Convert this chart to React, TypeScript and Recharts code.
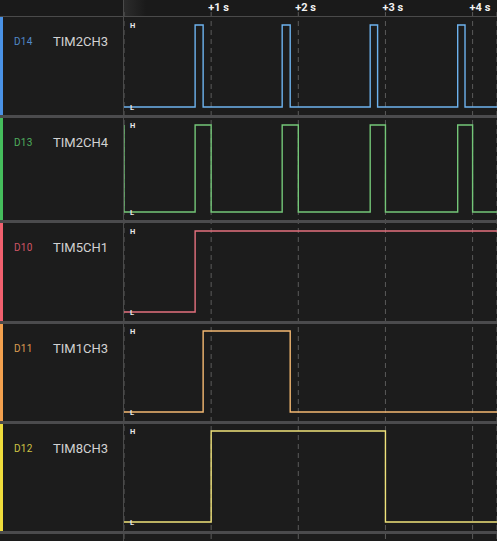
import React from "react";
import { LineChart, Line, XAxis, YAxis, CartesianGrid } from "recharts";

const W = 497;
const H = 541;
const PLOT_LEFT = 124;
const PLOT_W = W - PLOT_LEFT;
const T_MAX = 4.28;
const FONT = "Roboto, 'Noto Sans', sans-serif";

const secondTicks = [1, 2, 3, 4];
const levelTicks = [0, 1];
const levelNames = ["L", "H"];

const pins = ["D14", "D13", "D10", "D11", "D12"];
const signalNames = ["TIM2CH3", "TIM2CH4", "TIM5CH1", "TIM1CH3", "TIM8CH3"];
const barColors = ["#4a92e6", "#45bd5c", "#f0606e", "#f2a04e", "#eedc3c"];
const pinColors = ["#5189c9", "#4fae5e", "#cf5565", "#dd9c52", "#cfc445"];
const traceColors = ["#6db2ee", "#74c678", "#e4707e", "#f3b871", "#efe27a"];

// edge times in seconds, and the logic level after each edge
const tim2ch3Times = [0, 0.816, 0.908, 1.815, 1.907, 2.825, 2.91, 3.829, 3.913, 4.28];
const tim2ch3Levels = [0, 1, 0, 1, 0, 1, 0, 1, 0, 0];

const tim2ch4Times = [0, 0, 0.816, 1.0, 1.815, 2.0, 2.825, 3.0, 3.829, 4.0, 4.28];
const tim2ch4Levels = [1, 0, 1, 0, 1, 0, 1, 0, 1, 0, 0];

const tim5ch1Times = [0, 0.816, 4.28];
const tim5ch1Levels = [0, 1, 1];

const tim1ch3Times = [0, 0.908, 1.907, 4.28];
const tim1ch3Levels = [0, 1, 0, 0];

const tim8ch3Times = [0, 1.0, 3.0, 4.28];
const tim8ch3Levels = [0, 1, 0, 0];

const channelTimes = [tim2ch3Times, tim2ch4Times, tim5ch1Times, tim1ch3Times, tim8ch3Times];
const channelLevels = [tim2ch3Levels, tim2ch4Levels, tim5ch1Levels, tim1ch3Levels, tim8ch3Levels];

// row boxes on the page (layout only)
const rowLayout = [
  { top: 17, height: 98, mt: 8, mb: 8 },
  { top: 118, height: 102, mt: 7, mb: 8 },
  { top: 223, height: 98, mt: 8, mb: 9 },
  { top: 324, height: 97, mt: 7, mb: 9 },
  { top: 424, height: 107, mt: 7, mb: 9 },
];
const separators = [115, 220, 321, 421, 531];

const renderSecondTick = ({ x, payload }: any) => (
  <text
    x={x - 3}
    y={11}
    fill="#f2f2f2"
    fontSize={11}
    fontWeight={700}
    fontFamily={FONT}
    textAnchor="start"
  >
    {`+${payload.value} s`}
  </text>
);

const renderLevelTick = ({ y, payload }: any) => (
  <text
    x={6}
    y={y}
    dy={3}
    fill="#e8e8e8"
    fontSize={7.5}
    fontWeight={700}
    fontFamily={FONT}
    textAnchor="start"
  >
    {levelNames[payload.value]}
  </text>
);

function Channel({ i }: { i: number }) {
  const row = rowLayout[i];
  const data = channelTimes[i].map((t, k) => ({ t, v: channelLevels[i][k] }));
  return (
    <div style={{ position: "absolute", left: PLOT_LEFT, top: row.top }}>
      <LineChart
        width={PLOT_W}
        height={row.height}
        data={data}
        margin={{ top: row.mt, bottom: row.mb, left: 0, right: 0 }}
      >
        <XAxis dataKey="t" type="number" domain={[0, T_MAX]} allowDataOverflow hide />
        <YAxis
          type="number"
          domain={[0, 1]}
          ticks={levelTicks}
          interval={0}
          mirror
          width={20}
          axisLine={false}
          tickLine={false}
          tick={renderLevelTick}
        />
        <Line
          type="stepAfter"
          dataKey="v"
          stroke={traceColors[i]}
          strokeWidth={1.4}
          dot={false}
          isAnimationActive={false}
        />
      </LineChart>
    </div>
  );
}

export default function App() {
  const gridData = secondTicks.map((t) => ({ t }));
  return (
    <div
      style={{
        position: "absolute",
        left: 0,
        top: 0,
        width: W,
        height: H,
        background: "#1c1c1c",
        overflow: "hidden",
        fontFamily: FONT,
      }}
    >
      {/* header strip */}
      <div style={{ position: "absolute", left: 0, top: 0, width: W, height: 16, background: "#1a1a1a" }} />
      <div
        style={{
          position: "absolute",
          left: PLOT_LEFT,
          top: 0,
          width: 22,
          height: 16,
          background: "linear-gradient(to right, #2c2c2c, rgba(26,26,26,0))",
        }}
      />

      {/* time axis + dashed second markers */}
      <div style={{ position: "absolute", left: PLOT_LEFT, top: 0 }}>
        <LineChart width={PLOT_W} height={H} data={gridData} margin={{ top: 0, bottom: 0, left: 0, right: 0 }}>
          <CartesianGrid horizontal={false} stroke="#5a5a5a" strokeDasharray="5 4" />
          <XAxis
            dataKey="t"
            type="number"
            orientation="top"
            domain={[0, T_MAX]}
            allowDataOverflow
            ticks={secondTicks}
            height={12}
            axisLine={false}
            tickLine={false}
            tick={renderSecondTick}
          />
        </LineChart>
      </div>

      {/* left edge of plot */}
      <div style={{ position: "absolute", left: 123, top: 0, width: 1, height: H, background: "#4a4a4a" }} />

      {/* row separators */}
      <div style={{ position: "absolute", left: 0, top: 16, width: W, height: 1, background: "#4a4a4a" }} />
      {separators.map((y) => (
        <div key={y} style={{ position: "absolute", left: 0, top: y, width: W, height: 3, background: "#4b4b4d" }} />
      ))}

      {rowLayout.map((row, i) => (
        <React.Fragment key={pins[i]}>
          <div
            style={{
              position: "absolute",
              left: 0,
              top: row.top,
              width: 3,
              height: row.height,
              background: barColors[i],
            }}
          />
          <div
            style={{
              position: "absolute",
              left: 14,
              top: row.top + 19,
              fontSize: 10,
              lineHeight: "12px",
              color: pinColors[i],
              letterSpacing: 0.3,
            }}
          >
            {pins[i]}
          </div>
          <div
            style={{
              position: "absolute",
              left: 53,
              top: row.top + 17,
              fontSize: 13,
              lineHeight: "16px",
              color: "#d2d2d2",
            }}
          >
            {signalNames[i]}
          </div>
          <Channel i={i} />
        </React.Fragment>
      ))}
    </div>
  );
}
